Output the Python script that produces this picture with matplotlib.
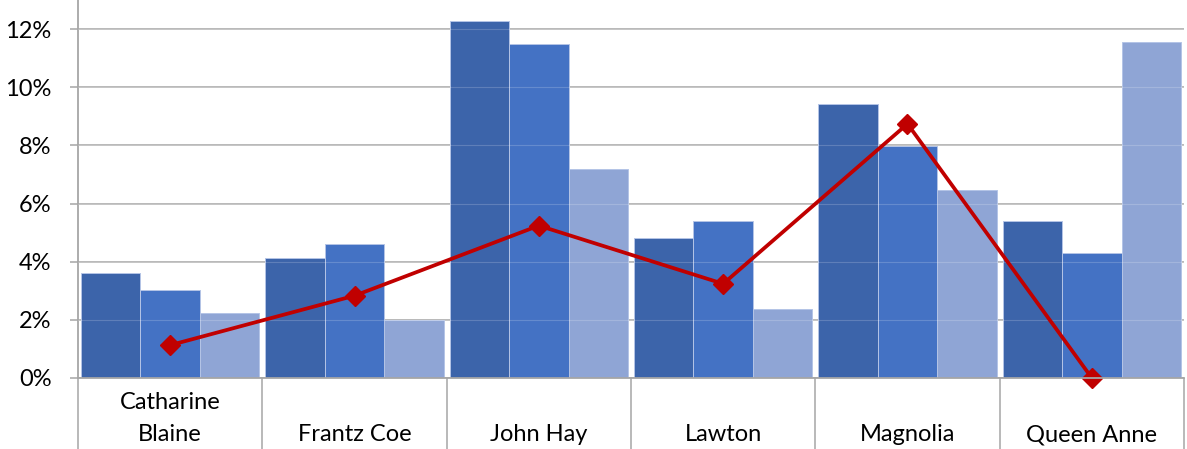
import matplotlib
matplotlib.use("Agg")
import matplotlib.pyplot as plt
import numpy as np
from matplotlib.ticker import FuncFormatter, FixedLocator

categories = ["Catharine\nBlaine", "Frantz Coe", "John Hay", "Lawton", "Magnolia", "Queen Anne"]
series_a = [3.62, 4.14, 12.28, 4.83, 9.42, 5.40]
series_b = [3.04, 4.62, 11.49, 5.41, 7.99, 4.31]
series_c = [2.25, 2.00, 7.20, 2.38, 6.46, 11.56]
line_vals = [1.13, 2.83, 5.24, 3.24, 8.74, 0.00]
y_ticks = [0, 2, 4, 6, 8, 10, 12]

plt.rcParams['font.family'] = ['Lato', 'DejaVu Sans']

fig = plt.figure(figsize=(11.87, 4.49), dpi=100)
ax = fig.add_axes([78/1187, 1 - 378/449, (1184 - 78)/1187, 378/449])

x = np.arange(len(categories))
w = 0.322
colors = ["#3C64AA", "#4472C4", "#8FA5D5"]
for off, vals, c in zip([-w, 0, w], [series_a, series_b, series_c], colors):
    ax.bar(x + off, vals, width=w, color=c, edgecolor="#B4C4E6", linewidth=0.7, zorder=2)

ax.plot(x, line_vals, color="#C00000", lw=2.7, marker="D", ms=10, zorder=4, clip_on=False)

ax.set_xlim(-0.5, len(categories) - 0.5)
ax.set_ylim(0, 13.0)
ax.yaxis.set_major_locator(FixedLocator(y_ticks))
ax.yaxis.set_major_formatter(FuncFormatter(lambda v, p: f"{v:.0f}%"))
ax.grid(axis="y", color="#A6A6A6", lw=1.1, zorder=1)
ax.set_axisbelow(True)
for t in y_ticks[1:]:
    ax.axhline(t, color="#FFFFFF", lw=0.8, alpha=0.18, zorder=3)

for s in ["top", "right"]:
    ax.spines[s].set_visible(False)
for s in ["left", "bottom"]:
    ax.spines[s].set_color("#A6A6A6")
    ax.spines[s].set_linewidth(1.3)
ax.spines["bottom"].set_zorder(5)

ax.tick_params(axis="y", length=6, width=1.1, color="#A6A6A6", labelsize=17, pad=13, labelcolor="#000000")

bounds = np.arange(len(categories) + 1) - 0.5
ax.set_xticks(bounds)
ax.set_xticklabels([])
ax.tick_params(axis="x", length=52, width=1.1, color="#A6A6A6")

trans = ax.get_xaxis_transform()
for xi, lab in zip(x, categories):
    lines = lab.split("\n")
    n = len(lines)
    for k, ln in enumerate(lines):
        yb = -0.1667 + (n - 1 - k) * 0.0847
        ax.text(xi, yb, ln, transform=trans, ha="center", va="baseline",
                fontsize=17, color="#000000")

fig.savefig("out.png", dpi=100)
